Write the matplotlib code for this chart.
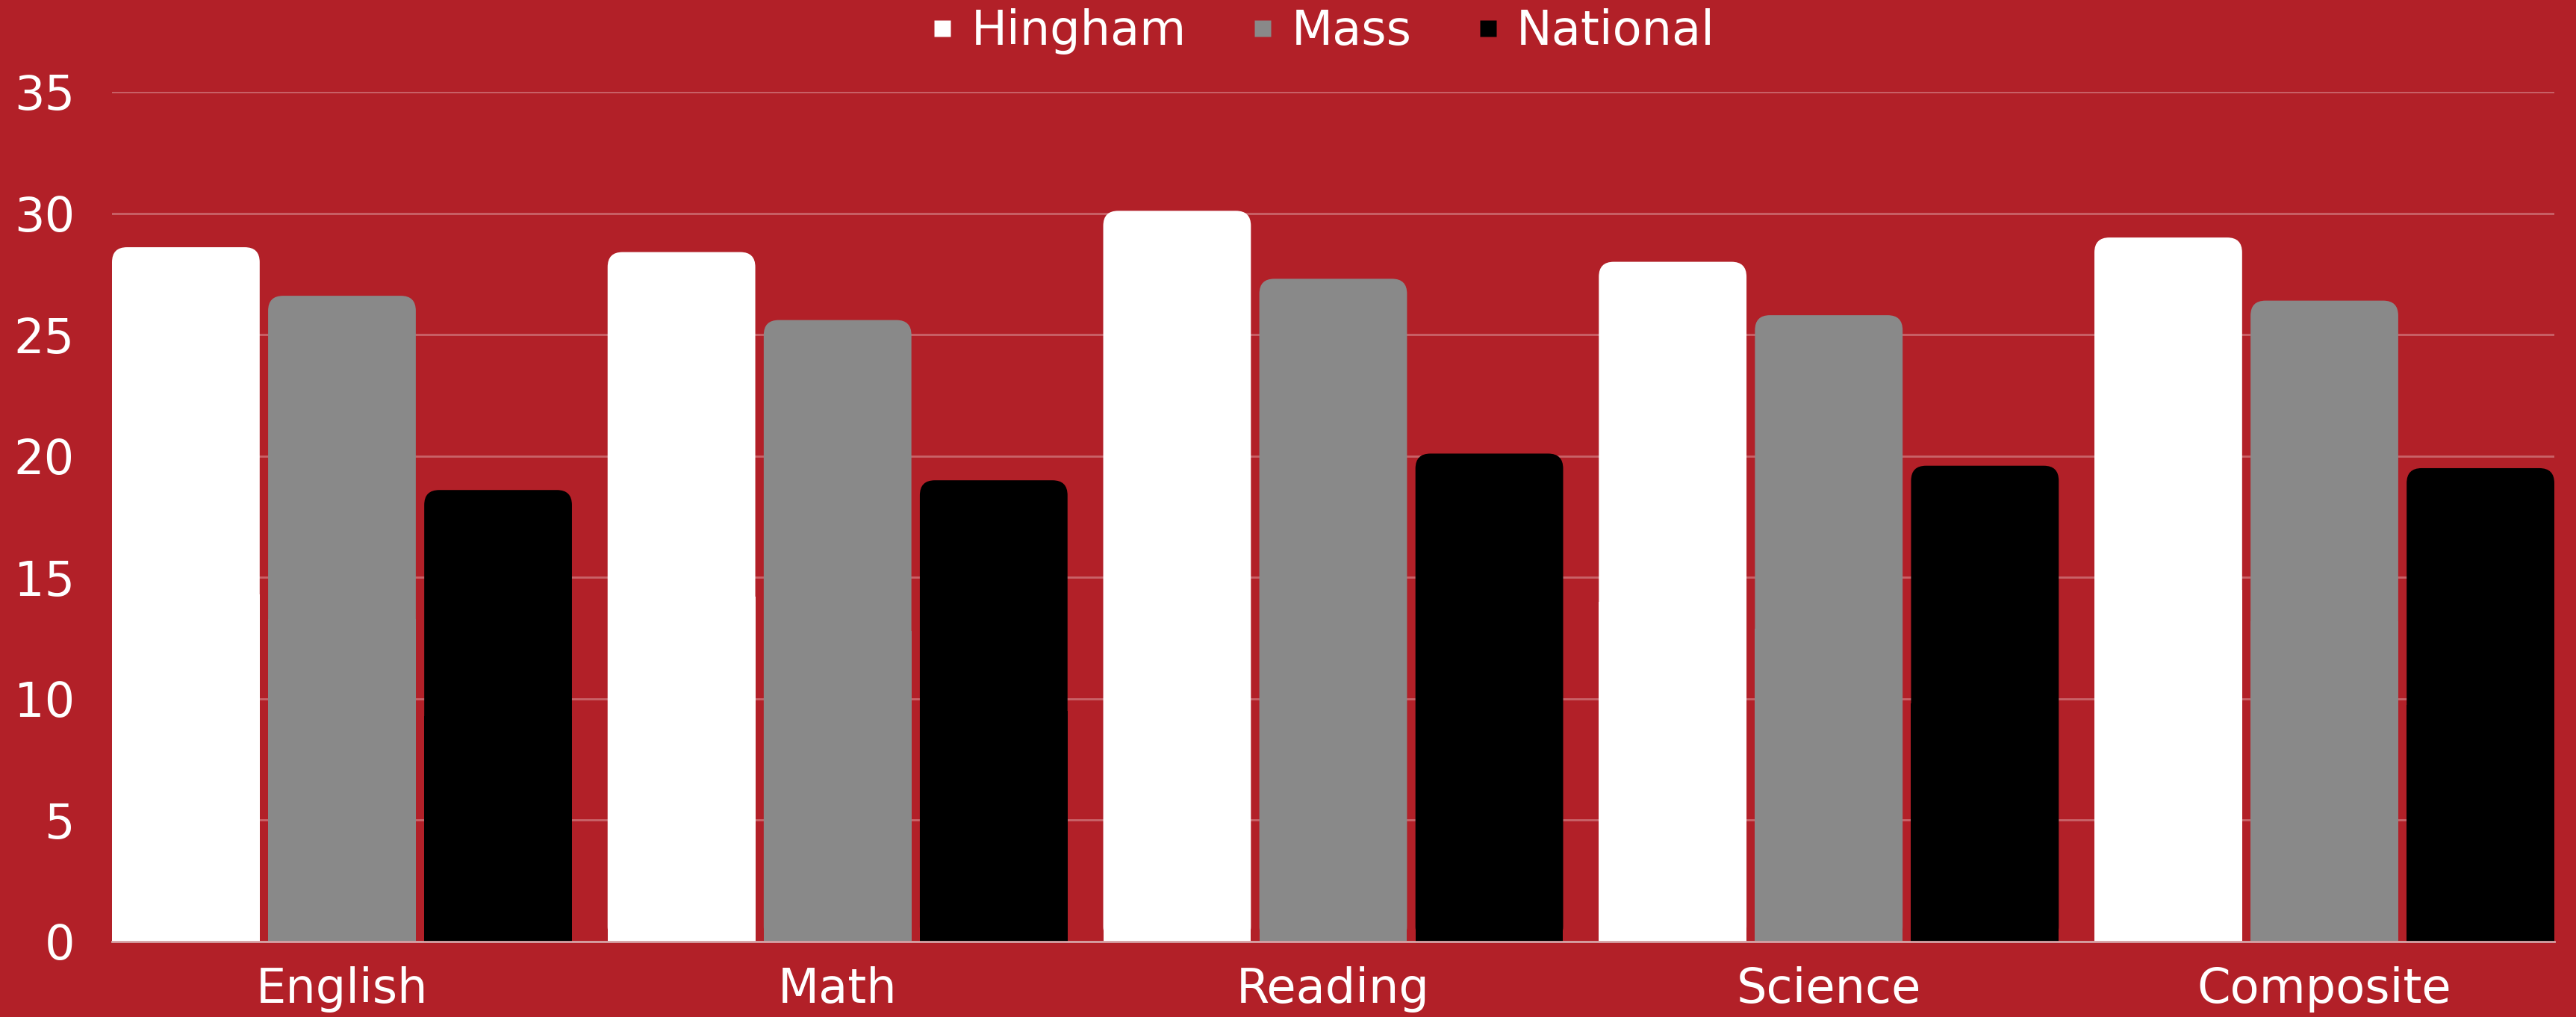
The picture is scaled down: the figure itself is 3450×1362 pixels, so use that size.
import matplotlib
matplotlib.use('Agg')
import matplotlib.pyplot as plt
from matplotlib.patches import FancyBboxPatch, Rectangle
from matplotlib.lines import Line2D
import numpy as np

# ---- data ----
categories = ['English', 'Math', 'Reading', 'Science', 'Composite']
series_names = ['Hingham', 'Mass', 'National']
hingham = [28.6, 28.4, 30.1, 28.0, 29.0]
mass = [26.6, 25.6, 27.3, 25.8, 26.4]
national = [18.6, 19.0, 20.1, 19.6, 19.5]
yticks = [0, 5, 10, 15, 20, 25, 30, 35]

# ---- style ----
BG = '#B22028'
colors = ['#FFFFFF', '#898989', '#000000']
plt.rcParams['font.family'] = ['DejaVu Sans']
FS = 46

W, H = 3450, 1362
fig = plt.figure(figsize=(W / 100, H / 100), dpi=100, facecolor=BG)
ax_l, ax_r, ax_b, ax_t = 150, 3421, 1261, 123
ax = fig.add_axes([ax_l / W, (H - ax_b) / H, (ax_r - ax_l) / W, (ax_b - ax_t) / H])
ax.set_facecolor(BG)

x = np.arange(len(categories))
step = 0.315
width = 0.298
xlim = (-step - width / 2, len(categories) - 1 + step + width / 2)
ax.set_xlim(*xlim)
ax.set_ylim(0, 35)

px_per_x = (ax_r - ax_l) / (xlim[1] - xlim[0])
px_per_y = (ax_b - ax_t) / 35.0
aspect = px_per_x / px_per_y
r = 20 / px_per_x

for i, (vals, c) in enumerate(zip([hingham, mass, national], colors)):
    bars = ax.bar(x + (i - 1) * step, vals, width, color=c, label=series_names[i], zorder=2)
    for b in bars:
        b.set_visible(False)
        x0, w_, h_ = b.get_x(), b.get_width(), b.get_height()
        ax.add_patch(FancyBboxPatch((x0, 0), w_, h_,
                                    boxstyle=f"round,pad=0,rounding_size={r}",
                                    mutation_aspect=aspect, fc=c, ec='none', zorder=3))
        ax.add_patch(Rectangle((x0, 0), w_, h_ * 0.5, fc=c, ec='none', zorder=3))

ax.set_yticks(yticks)
ax.set_xticks(x)
ax.set_xticklabels(categories)
ax.yaxis.grid(True, color='white', alpha=0.3, lw=2, zorder=0)
ax.set_axisbelow(True)
for s in ['top', 'right', 'left']:
    ax.spines[s].set_visible(False)
ax.spines['bottom'].set_color('#D6A2A5')
ax.spines['bottom'].set_linewidth(2)
ax.spines['bottom'].set_zorder(4)
ax.tick_params(axis='both', length=0, labelsize=FS, labelcolor='white')
ax.tick_params(axis='y', pad=36)
ax.tick_params(axis='x', pad=24)

handles = [Line2D([], [], marker='s', ls='none', markersize=16, markerfacecolor=c,
                  markeredgecolor='none') for c in colors]
fig.legend(handles, series_names, loc='upper center', bbox_to_anchor=(0.513, 1.0 - 8 / H),
           ncol=3, frameon=False, fontsize=FS, labelcolor='white',
           handlelength=0.6, handletextpad=0.3, columnspacing=1.3,
           borderpad=0.05, borderaxespad=0)

fig.savefig('out.png', dpi=100, facecolor=BG)
